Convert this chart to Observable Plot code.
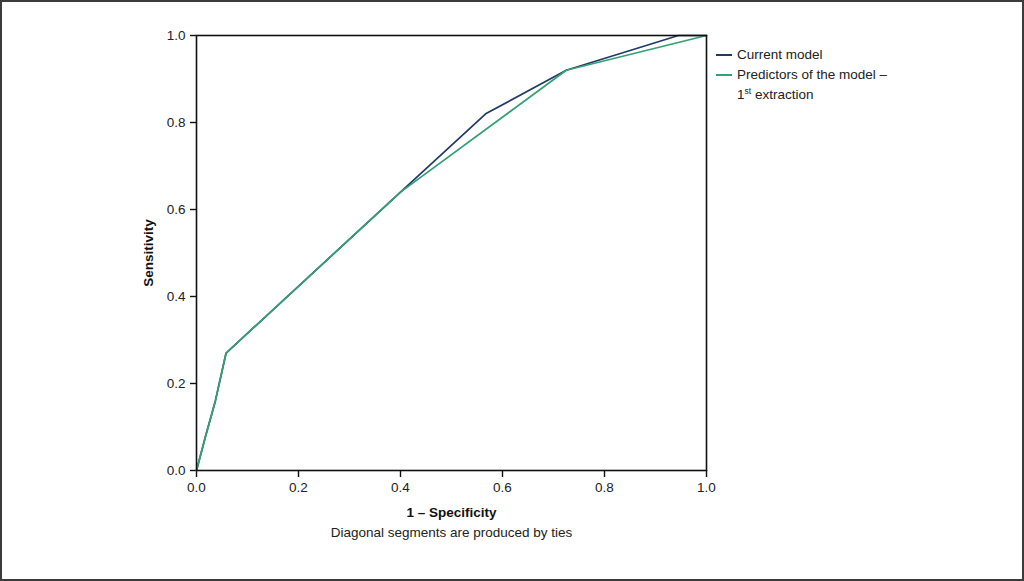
<!DOCTYPE html>
<html>
<head>
<meta charset="utf-8">
<script src="https://cdn.jsdelivr.net/npm/d3@7"></script>
<script src="https://cdn.jsdelivr.net/npm/@observablehq/plot@0.6"></script>
<style>
  html, body { margin: 0; padding: 0; background: #fff; }
  #wrap { position: relative; width: 1024px; height: 581px; overflow: hidden; font-family: "Liberation Sans", Arial, sans-serif; }
  #border { position: absolute; left: 0; top: 0; width: 1024px; height: 581px; box-sizing: border-box; border: 2px solid #3c3c3c; pointer-events: none; }
  .leg { position: absolute; font-size: 13.5px; color: #222; line-height: 20px; }
  .leg .sw { position: absolute; left: 0; width: 16px; height: 0; border-top: 2px solid; }
  .leg .tx { position: absolute; left: 21px; white-space: nowrap; }
  sup { font-size: 8.5px; vertical-align: 5px; line-height: 0; }
</style>
</head>
<body>
<div id="wrap">
  <div id="chart"></div>
  <div class="leg" style="left:716px; top:45px; width:200px; height:70px;">
    <div class="sw" style="top:9px; border-color:#1f3a64;"></div>
    <div class="tx" style="top:0px;">Current model</div>
    <div class="sw" style="top:29px; border-color:#34a074;"></div>
    <div class="tx" style="top:20px;">Predictors of the model –</div>
    <div class="tx" style="top:40px;">1<sup>st</sup> extraction</div>
  </div>
  <div id="border"></div>
</div>
<script>
// Data
const seriesNames = ["Current model", "Predictors of the model – 1st extraction"];
const currentFpr  = [0, 0.018, 0.037, 0.058, 0.40, 0.567, 0.725, 0.945, 1.0];
const currentTpr  = [0, 0.08,  0.16,  0.27,  0.64, 0.82,  0.92,  1.0,   1.0];
const predFpr     = [0, 0.018, 0.037, 0.058, 0.40, 0.725, 1.0];
const predTpr     = [0, 0.08,  0.16,  0.27,  0.64, 0.92,  1.0];
const xTicks = [0, 0.2, 0.4, 0.6, 0.8, 1.0];
const yTicks = [0, 0.2, 0.4, 0.6, 0.8, 1.0];
const colors = ["#1f3a64", "#34a074"];
const captionText = "Diagonal segments are produced by ties";
const font = "'Liberation Sans', Arial, sans-serif";

const rows = [
  ...currentFpr.map((x, i) => ({series: seriesNames[0], x, y: currentTpr[i]})),
  ...predFpr.map((x, i) => ({series: seriesNames[1], x, y: predTpr[i]}))
];

const chart = Plot.plot({
  width: 1024,
  height: 581,
  marginLeft: 196,
  marginRight: 318,
  marginTop: 35,
  marginBottom: 111,
  style: { fontFamily: font, fontSize: "13.5px", color: "#222", background: "transparent", overflow: "visible" },
  x: { domain: [0, 1] },
  y: { domain: [0, 1] },
  color: { domain: seriesNames, range: colors },
  marks: [
    Plot.axisX({ ticks: xTicks, tickFormat: ".1f", tickSize: 7, tickPadding: 5, stroke: "#111", strokeWidth: 1.4, fontSize: 13.5, label: null }),
    Plot.axisY({ ticks: yTicks, tickFormat: ".1f", tickSize: 6, tickPadding: 5, stroke: "#111", strokeWidth: 1.4, fontSize: 13.5, label: null }),
    Plot.line(rows, { x: "x", y: "y", z: "series", stroke: "series", strokeWidth: 1.7 }),
    Plot.frame({ stroke: "#111", strokeWidth: 1.6 }),
    Plot.text(["1 – Specificity"], { frameAnchor: "bottom", dy: 46, text: d => d, fontWeight: "bold", fontSize: 13.5, fill: "#111" }),
    Plot.text(["Sensitivity"], { frameAnchor: "left", dx: -48, rotate: -90, textAnchor: "middle", text: d => d, fontWeight: "bold", fontSize: 13.5, fill: "#111" }),
    Plot.text([captionText], { frameAnchor: "bottom", dy: 66, text: d => d, fontSize: 13.5, fill: "#222" })
  ]
});
document.getElementById("chart").appendChild(chart);
</script>
</body>
</html>
